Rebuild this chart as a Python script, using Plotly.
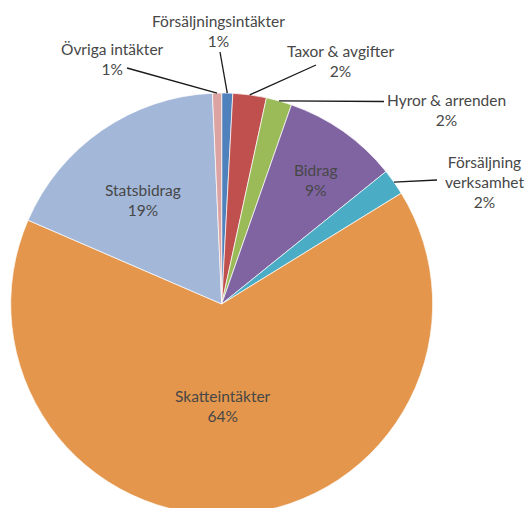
import math
import plotly.graph_objects as go

# ---- data (clockwise from 12 o'clock) ----
labels = ["Försäljningsintäkter", "Taxor & avgifter", "Hyror & arrenden", "Bidrag",
          "Försäljning verksamhet", "Skatteintäkter", "Statsbidrag", "Övriga intäkter"]
values = [0.84, 2.56, 1.96, 8.84, 2.0, 65.3, 17.8, 0.7]
pct_labels = ["1%", "2%", "2%", "9%", "2%", "64%", "19%", "1%"]
label_lines = ["Försäljningsintäkter", "Taxor & avgifter", "Hyror & arrenden", "Bidrag",
               "Försäljning<br>verksamhet", "Skatteintäkter", "Statsbidrag", "Övriga intäkter"]
colors = ["#4F81BD", "#C0504D", "#9BBB59", "#8064A2",
          "#4BACC6", "#E4974C", "#A3B7D9", "#DBA3A1"]

# ---- layout geometry ----
W, H = 528, 530
CX, CY, R = 221.7, 304.0, 211.0

def px(x):
    return x / W

def py(y):
    return 1 - y / H

# label block centres (pixels) and leader-line starts (None = inside label)
label_pos = [(218, 31), (340, 60.5), (446, 110), (316, 179.5),
             (484, 182), (222.5, 405.5), (142.5, 200.5), (112, 58.5)]
leader_start = [(220, 52), (316, 65), (384, 101.5), None,
                (437, 180), None, None, (127, 68)]

fig = go.Figure(go.Pie(
    labels=labels, values=values, sort=False, direction="clockwise", rotation=0,
    marker=dict(colors=colors, line=dict(color="white", width=0.7)),
    textinfo="none", hoverinfo="label+percent", showlegend=False,
    domain=dict(x=[px(CX - R), px(CX + R)], y=[py(CY + R), py(CY - R)]),
))

total = sum(values)
cum = 0.0
shapes = []
annotations = []
for i, v in enumerate(values):
    mid = (cum + v / 2) / total * 2 * math.pi
    cum += v
    ex = CX + R * math.sin(mid)
    ey = CY - R * math.cos(mid)
    lx, ly = label_pos[i]
    annotations.append(dict(
        x=px(lx), y=py(ly), xref="paper", yref="paper",
        text=f"{label_lines[i]}<br>{pct_labels[i]}", showarrow=False,
        xanchor="center", yanchor="middle", align="center",
        font=dict(family="Lato", size=15.5, color="#474747"),
    ))
    if leader_start[i] is not None:
        sx, sy = leader_start[i]
        shapes.append(dict(type="line", xref="paper", yref="paper",
                           x0=px(sx), y0=py(sy), x1=px(ex), y1=py(ey),
                           line=dict(color="#1a1a1a", width=1.3)))

fig.update_layout(
    width=W, height=H, margin=dict(l=0, r=0, t=0, b=0),
    paper_bgcolor="white", plot_bgcolor="white",
    shapes=shapes, annotations=annotations,
)

fig.write_html(
    "out.html",
    config={"displayModeBar": False},
    post_script="document.body.style.margin='0';document.body.style.overflow='hidden';",
)
